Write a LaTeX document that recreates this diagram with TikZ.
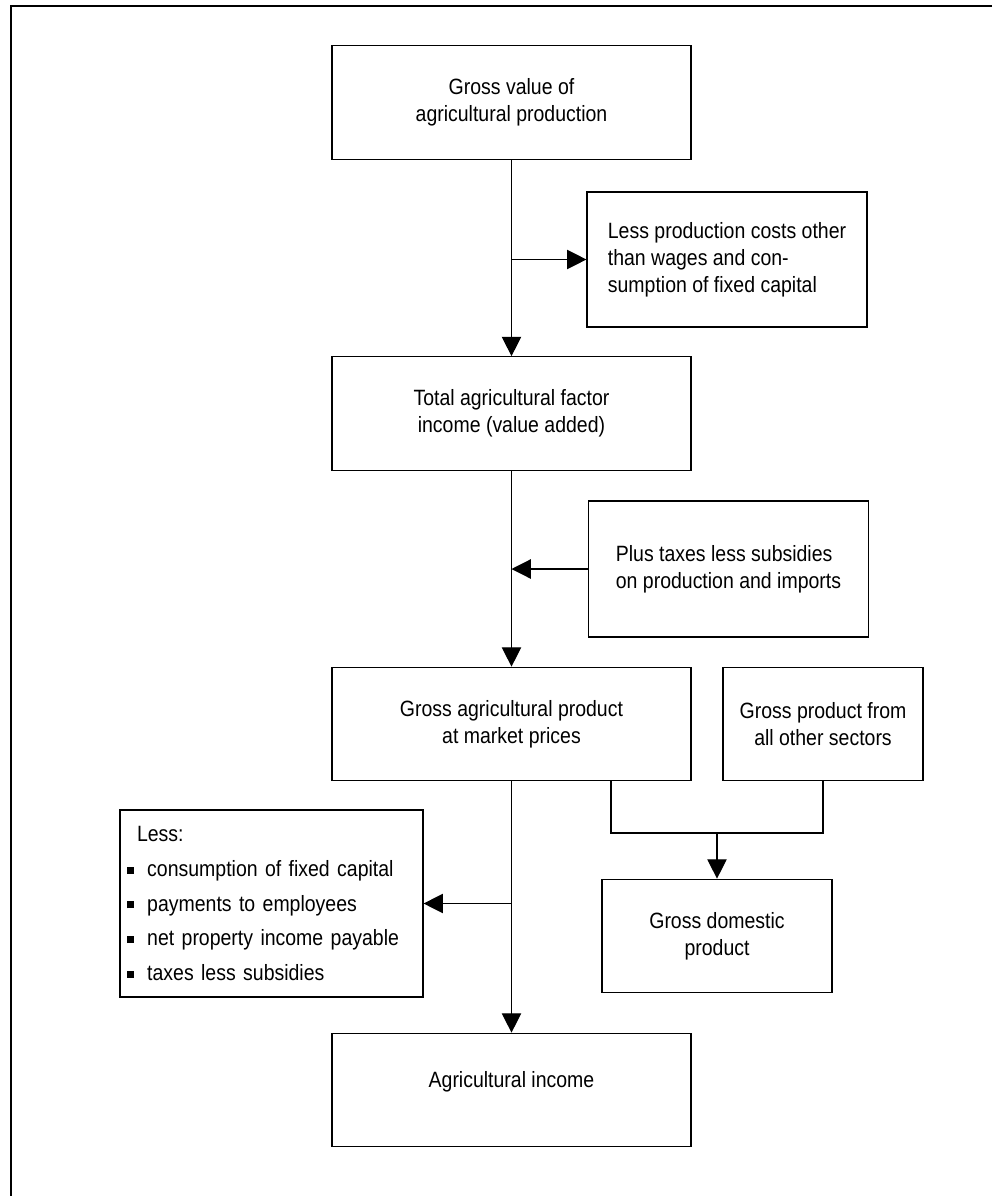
\documentclass[tikz,border=0pt]{standalone}
\usepackage{fontspec}
\setmainfont{Liberation Sans}[FakeStretch=0.88]
\usetikzlibrary{positioning,arrows.meta,calc}
\newcommand{\sqb}{\rule[1.5pt]{4pt}{4pt}\hspace{7.5pt}}
\tikzset{
  box/.style={draw, line width=0.7pt, align=center, inner sep=2pt,
    font=\fontsize{12.6}{15.3}\selectfont},
  mainbox/.style={box, minimum width=7.18cm, minimum height=2.27cm},
  sidebox/.style={box, align=left, minimum width=5.6cm, minimum height=2.7cm},
  arr/.style={line width=0.7pt, -{Triangle[length=11pt,width=11pt]}},
  link/.style={line width=0.7pt},
  frame/.style={line width=1.2pt}
}
\begin{document}
\begin{tikzpicture}[x=0.02cm, y=-0.02cm]
    \useasboundingbox (0,0) rectangle (992,1196);
    \draw[frame] (992,6) -- (11,6) -- (11,1196);

    \node[mainbox] (gv) at (511.5,102.5) {Gross value of\\agricultural production};
    \node[sidebox] (lc) at (727,259.5) {Less production costs other\\than wages and con-\\sumption of fixed capital};
    \node[mainbox] (fi) at (511.5,413.5) {Total agricultural factor\\income (value added)};
    \node[sidebox, minimum height=2.72cm] (pt) at (728.5,569) {Plus taxes less subsidies\\on production and imports};
    \node[mainbox] (ga) at (511.5,724) {Gross agricultural product\\at market prices};
    \node[box, minimum width=4.0cm, minimum height=2.27cm] (go) at (823,724) {Gross product from\\all other sectors};
    \node[box, minimum width=4.6cm, minimum height=2.27cm] (gd) at (717,936) {Gross domestic\\product};
    \node[box, align=left, text width=5.78cm, inner xsep=0.14cm, minimum height=3.74cm,
      font=\fontsize{12.6}{19.8}\selectfont] (ls) at (271.5,903.5)
      {\hspace{5.7pt}Less:\\ \sqb consumption of fixed capital\\ \sqb payments to employees\\
       \sqb net property income payable\\ \sqb taxes less subsidies};
    \node[mainbox, text depth=11.5pt] (ai) at (511.5,1090) {Agricultural income};

    % branch points on the main line
    \coordinate (b1) at (gv.south |- lc.west);
    \coordinate (b2) at (fi.south |- pt.west);
    \coordinate (b3) at (ga.south |- ls.east);
    \coordinate (jl) at (611,833);
    \coordinate (jr) at (go.south |- jl);
    \coordinate (jn) at (gd.north |- jl);

    \draw[arr] (gv) -- (fi);
    \draw[arr] (b1) -- (lc.west);
    \draw[arr] (fi) -- (ga);
    \draw[arr] (pt.west) -- (b2);
    \draw[arr] (ga) -- (ai);
    \draw[arr] (b3) -- (ls.east);

    \draw[link] (ga.south -| jl) -- (jl) -- (jr) -- (go.south);
    \draw[arr] (jn) -- (gd.north);
\end{tikzpicture}
\end{document}
